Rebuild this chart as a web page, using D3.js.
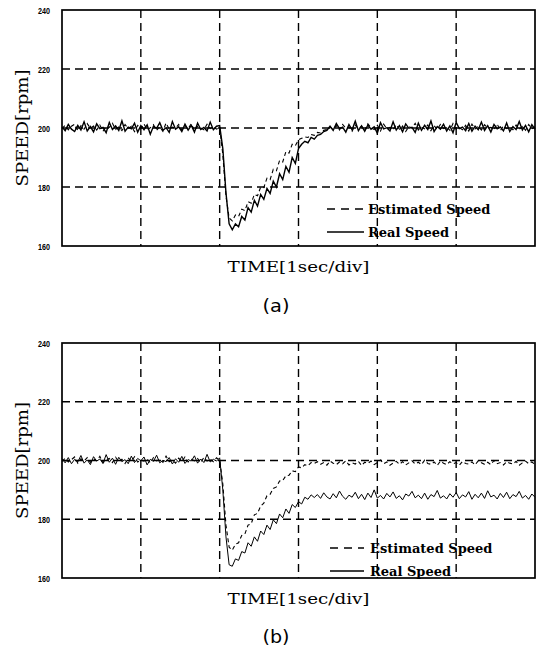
<!DOCTYPE html>
<html lang="en">
<head>
<meta charset="utf-8">
<script src="https://d3js.org/d3.v7.min.js"></script>
<style>
  body { margin: 0; background: #fff; }
  .tick-lbl { font-family: "Liberation Sans", Arial, sans-serif; font-weight: bold; font-size: 9.5px; }
  .ylab, .xlab { font-family: "DejaVu Serif", serif; }
  .leg { font-family: "DejaVu Serif", serif; font-weight: bold; font-size: 13px; }
  .cap { font-family: "DejaVu Sans", sans-serif; font-size: 17px; }
</style>
</head>
<body>
<div id="chart"></div>
<script>
// sampling step of the traces [sec]
var DT = 0.04;

var yTicks = [160, 180, 200, 220, 240];
var xGrid = [1, 2, 3, 4, 5];
var legendNames = ["Estimated Speed", "Real Speed"];
var captions = ["(a)", "(b)"];

// (a) real speed [rpm]
var realA = [
  200.4, 199.1, 201.2, 199.6, 198.8, 200.9, 199.3, 202.1, 199.0, 200.5,
  198.7, 201.4, 199.8, 200.2, 198.4, 201.9, 199.5, 200.7, 199.2, 202.4,
  198.9, 200.3, 199.7, 201.6, 198.6, 200.8, 199.4, 201.1, 197.9, 200.6,
  199.9, 201.8, 199.2, 200.1, 198.5, 202.2, 199.6, 200.4, 198.8, 201.3,
  199.3, 200.9, 198.6, 201.7, 199.5, 200.2, 199.0, 202.0, 199.4, 200.6,
  200.8,
  193, 178, 167.5, 165.5, 167.5, 166.5, 170, 168.8, 173, 171.5,
  175.5, 173.5, 177.5, 175.8, 179.5, 177.8, 182, 180, 184.5, 182.5,
  187, 185, 190, 188, 193, 194.5, 195.5, 195, 196.8, 196.2,
  197.5, 197.8, 198.8, 199.2, 200.6,
  199.2, 201.5, 199.8, 200.3, 198.6, 201.2, 199.4, 202.3, 199.1, 200.7,
  198.9, 201.0, 199.6, 200.4, 198.3, 201.8, 199.7, 200.1, 199.0, 202.1,
  199.3, 200.8, 198.7, 201.4, 199.9, 200.2, 198.5, 201.6, 199.2, 200.9,
  199.5, 202.4, 198.8, 200.5, 199.6, 201.3, 199.0, 200.7, 198.4, 201.9,
  199.8, 200.3, 199.1, 201.5, 198.9, 200.6, 199.4, 202.0, 199.2, 200.8,
  198.6, 201.2, 199.7, 200.4, 199.0, 201.7, 198.8, 200.5, 199.5, 202.2,
  199.3, 200.9, 198.7, 201.1, 199.6
];

// (a) estimated speed [rpm]
var estA = [
  199.8, 200.9, 199.4, 200.6, 201.3, 199.2, 200.8, 199.6, 201.5, 199.9,
  200.7, 199.3, 201.0, 198.9, 200.5, 200.2, 201.6, 199.5, 200.3, 199.1,
  201.2, 199.8, 200.6, 198.8, 200.9, 199.7, 201.4, 199.4, 200.1, 201.1,
  199.2, 200.4, 198.9, 201.7, 199.6, 200.3, 199.9, 201.2, 199.3, 200.8,
  199.7, 201.5, 199.1, 200.6, 200.0, 199.4, 201.3, 199.8, 200.5, 199.6,
  200.2,
  191, 177, 169.5, 168.5, 170.5, 170, 172.5, 172, 175, 174.5,
  177.5, 177, 180, 179.8, 183, 182.5, 186, 185.5, 189, 188.5,
  192, 191.5, 194.5, 194, 196, 196.5, 197, 196.8, 197.8, 197.5,
  198.5, 198.3, 199.2, 199.5, 200.3,
  199.6, 200.8, 199.3, 201.2, 199.9, 200.4, 198.9, 201.0, 199.7, 200.6,
  199.2, 201.4, 200.1, 199.5, 200.9, 199.0, 201.3, 199.8, 200.2, 199.4,
  201.1, 199.6, 200.7, 198.8, 200.5, 199.9, 201.6, 199.3, 200.3, 199.7,
  201.0, 199.1, 200.8, 199.5, 201.2, 199.8, 200.4, 199.2, 201.5, 199.6,
  200.1, 199.4, 200.9, 199.0, 201.3, 199.7, 200.6, 199.3, 201.1, 199.9,
  200.2, 199.5, 201.4, 199.1, 200.7, 199.8, 200.3, 199.4, 201.0, 199.6,
  200.5, 199.2, 201.2, 199.7, 200.4
];

// (b) real speed [rpm]
var realB = [
  200.6, 199.2, 201.0, 198.9, 200.4, 199.5, 201.7, 199.1, 200.2, 198.6,
  201.3, 199.8, 200.5, 199.0, 202.0, 199.4, 200.8, 198.7, 201.1, 199.6,
  200.3, 198.9, 201.5, 199.3, 200.7, 199.9, 201.2, 198.5, 200.4, 199.7,
  201.8, 199.2, 200.1, 199.6, 201.0, 198.8, 200.6, 199.4, 201.4, 199.0,
  200.3, 199.8, 201.6, 199.1, 200.5, 199.3, 202.1, 199.5, 200.4, 199.8,
  200.9,
  190, 174, 164.5, 164, 166.5, 166, 169, 168.5, 172, 170.8,
  174, 172.5, 176, 174.8, 178, 176.5, 179.8, 178.5, 181.8, 180.5,
  183.5, 182, 185, 184, 186, 185.2, 187.5, 186.8, 188.3, 187.4,
  188.4, 187.1, 189.0, 187.6, 186.9, 188.7, 187.3, 189.6, 187.8, 186.8,
  188.2, 187.5, 189.2, 187.0, 188.5, 186.7, 188.9, 187.4, 190.0, 187.2,
  188.1, 186.9, 188.8, 187.6, 189.3, 187.1, 188.0, 186.6, 188.6, 187.9,
  189.5, 187.3, 188.2, 187.0, 188.9, 186.8, 188.4, 187.7, 189.8, 187.2,
  188.0, 186.9, 188.7, 187.5, 189.1, 187.0, 188.3, 187.6, 189.4, 186.8,
  188.5, 187.3, 188.9, 187.1, 189.7, 187.6, 188.2, 186.9, 188.8, 187.4,
  189.2, 187.0, 188.4, 187.7, 189.5, 187.2, 188.1, 186.8, 188.6, 187.5
];

// (b) estimated speed [rpm]
var estB = [
  199.7, 200.8, 199.5, 200.3, 201.2, 199.1, 200.6, 199.8, 201.0, 199.4,
  200.5, 199.9, 201.4, 199.2, 200.2, 200.7, 199.3, 201.1, 199.6, 200.4,
  199.0, 200.9, 199.7, 201.3, 199.5, 200.1, 199.8, 200.6, 199.2, 201.0,
  199.9, 200.3, 199.4, 201.5, 199.6, 200.2, 199.1, 200.8, 199.7, 201.2,
  199.5, 200.4, 199.9, 200.7, 199.3, 201.1, 199.8, 200.5, 199.6, 200.9,
  200.1,
  192, 178, 170.5, 169.5, 171.5, 172, 174.5, 175, 178, 178.5,
  181.5, 182, 184.5, 185.5, 188, 188.5, 190.5, 191, 193, 193.2,
  194.8, 195, 196.5, 196.2, 197.8, 197.5, 198.6, 198.2, 199.3, 199,
  199.6, 198.7, 199.3, 198.4, 199.8, 199.1, 198.6, 199.5, 198.9, 199.9,
  198.5, 199.2, 198.8, 199.7, 198.3, 199.4, 199.0, 199.8, 198.6, 199.3,
  200.2, 198.9, 199.5, 198.4, 199.1, 199.7, 198.7, 199.6, 198.5, 199.2,
  199.9, 198.8, 199.4, 198.6, 200.1, 199.0, 198.7, 199.5, 198.3, 199.8,
  199.1, 198.6, 199.6, 198.9, 199.3, 198.4, 199.7, 199.0, 198.8, 199.5,
  198.5, 199.9, 199.2, 198.7, 199.4, 198.6, 200.0, 198.9, 199.3, 198.5,
  199.6, 199.1, 198.8, 199.7, 198.4, 199.2, 199.8, 198.9, 199.5, 198.7
];

var svg = d3.select("#chart").append("svg")
  .attr("width", 537)
  .attr("height", 648);

var left = 62, right = 535;

function panel(top, bottom, real, est, opt) {
  var x = d3.scaleLinear().domain([0, 6]).range([left, right]);
  var y = d3.scaleLinear().domain([160, 240]).range([bottom, top]);
  var g = svg.append("g");

  // dashed grid
  g.selectAll(".hg").data(yTicks.filter(function(d){ return d > 160 && d < 240; }))
    .enter().append("line")
    .attr("x1", left).attr("x2", right)
    .attr("y1", function(d){ return y(d); }).attr("y2", function(d){ return y(d); })
    .attr("stroke", "#000").attr("stroke-width", 1.4)
    .attr("stroke-dasharray", "8,5");
  g.selectAll(".vg").data(xGrid)
    .enter().append("line")
    .attr("x1", function(d){ return x(d); }).attr("x2", function(d){ return x(d); })
    .attr("y1", top).attr("y2", bottom)
    .attr("stroke", "#000").attr("stroke-width", 1.4)
    .attr("stroke-dasharray", "8,5");

  var line = d3.line()
    .x(function(d, i){ return x(i * DT); })
    .y(function(d){ return y(d); });

  // traces
  g.append("path").datum(est)
    .attr("d", line)
    .attr("fill", "none").attr("stroke", "#000")
    .attr("stroke-width", 1.1).attr("stroke-dasharray", "4,3");
  g.append("path").datum(real)
    .attr("d", line)
    .attr("fill", "none").attr("stroke", "#000")
    .attr("stroke-width", opt.realW);

  // frame
  g.append("rect")
    .attr("x", left).attr("y", top)
    .attr("width", right - left).attr("height", bottom - top)
    .attr("fill", "none").attr("stroke", "#000").attr("stroke-width", 1.7);

  // y tick labels
  var ax = g.append("g")
    .attr("transform", "translate(" + left + ",0)")
    .call(d3.axisLeft(y).tickValues(yTicks).tickSize(0).tickPadding(12));
  ax.select(".domain").remove();
  ax.selectAll("text")
    .attr("class", "tick-lbl")
    .attr("fill", "#000")
    .attr("textLength", 12)
    .attr("lengthAdjust", "spacingAndGlyphs")
    .style("font-family", null).style("font-size", null);
  ax.attr("font-family", null).attr("font-size", null);

  // axis titles
  g.append("text")
    .attr("class", "ylab")
    .attr("transform", "translate(28," + y(200) + ") rotate(-90)")
    .attr("text-anchor", "middle")
    .attr("font-size", 16)
    .attr("textLength", 117)
    .attr("lengthAdjust", "spacingAndGlyphs")
    .text("SPEED[rpm]");
  g.append("text")
    .attr("class", "xlab")
    .attr("x", (left + right) / 2).attr("y", bottom + opt.xlabDy)
    .attr("text-anchor", "middle")
    .attr("font-size", 15.5)
    .attr("textLength", 142)
    .attr("lengthAdjust", "spacingAndGlyphs")
    .text("TIME[1sec/div]");
  g.append("text")
    .attr("class", "cap")
    .attr("x", 276).attr("y", bottom + opt.capDy)
    .attr("text-anchor", "middle")
    .attr("textLength", 27)
    .attr("lengthAdjust", "spacingAndGlyphs")
    .text(opt.caption);

  // legend
  var lg = opt.legend;
  g.append("line")
    .attr("x1", lg.x0).attr("x2", lg.x1)
    .attr("y1", lg.y1).attr("y2", lg.y1)
    .attr("stroke", "#000").attr("stroke-width", 1.3)
    .attr("stroke-dasharray", "8,6");
  g.append("line")
    .attr("x1", lg.x0).attr("x2", lg.x1)
    .attr("y1", lg.y2).attr("y2", lg.y2)
    .attr("stroke", "#000").attr("stroke-width", opt.realW + 0.3);
  g.selectAll(".leg").data(legendNames)
    .enter().append("text")
    .attr("class", "leg")
    .attr("x", lg.tx)
    .attr("y", function(d, i){ return i == 0 ? lg.y1 + 5 : lg.y2 + 5; })
    .text(function(d){ return d; });
}

panel(10, 246, realA, estA, {
  realW: 1.4, xlabDy: 26, capDy: 66, caption: captions[0],
  legend: {x0: 327, x1: 364, tx: 368, y1: 209, y2: 232}
});
panel(343, 578, realB, estB, {
  realW: 1.0, xlabDy: 26, capDy: 65, caption: captions[1],
  legend: {x0: 330, x1: 364, tx: 370, y1: 548, y2: 571}
});
</script>
</body>
</html>
